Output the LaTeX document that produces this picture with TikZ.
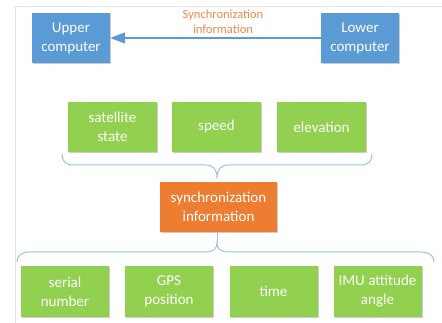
\documentclass[tikz,border=0pt]{standalone}
\usepackage{fontspec}
\setmainfont{Carlito}
\usetikzlibrary{arrows.meta,shadows}
\definecolor{boxblue}{HTML}{5B9BD5}
\definecolor{boxgreen}{HTML}{92D050}
\definecolor{boxorange}{HTML}{ED7D31}
\definecolor{bracecol}{HTML}{9DC3E6}
\definecolor{framecol}{HTML}{E3E3E3}
\definecolor{labelorange}{HTML}{F08A4B}
\tikzset{
  box/.style={text=white, align=center,
    font=\fontsize{15}{19}\selectfont, inner sep=0pt,
    drop shadow={shadow xshift=1pt, shadow yshift=-1pt, opacity=0.2, fill=black}},
  bluebox/.style={box, fill=boxblue, minimum width=78pt, minimum height=50pt},
  greenbox/.style={box, fill=boxgreen, minimum width=89pt, minimum height=50pt},
  orangebox/.style={box, fill=boxorange, minimum width=117pt, minimum height=50pt},
  bracestyle/.style={draw=bracecol, line width=1pt},
  flowarrow/.style={draw=boxblue, line width=1.4pt, -{Triangle[length=15pt,width=11pt]}},
}
\begin{document}
\begin{tikzpicture}[x=1pt,y=-1pt]
\useasboundingbox (0,0) rectangle (442,323);
\fill[white] (0,0) rectangle (442,323);
\draw[framecol, line width=0.8pt] (15,323) -- (15,6) -- (442,6);

\node[bluebox] (upper) at (71,38) {Upper\\computer};
\node[bluebox] (lower) at (360,38) {Lower\\computer};
\draw[flowarrow] (lower.west) -- (upper.east);
\node[text=labelorange, align=center, font=\fontsize{12.5}{15}\selectfont] (synclabel) at (223,22) {Synchronization\\information};

\node[greenbox] (sat) at (112.5,127) {satellite\\state};
\node[greenbox] (speed) at (216.5,127) {speed};
\node[greenbox] (elev) at (321.5,127) {elevation};

\node[orangebox] (sync) at (218.5,207) {synchronization\\information};

\node[greenbox, minimum width=88pt, minimum height=51pt] (serial) at (65,291.5) {serial\\number};
\node[greenbox, minimum width=88pt, minimum height=51pt] (gps) at (169,291.5) {GPS\\position};
\node[greenbox, minimum width=88pt, minimum height=51pt] (time) at (273.5,291.5) {time};
\node[greenbox, minimum width=88pt, minimum height=51pt] (imu) at (377.5,291.5) {IMU attitude\\angle};

% upper brace
\coordinate (tipA) at (217,178);
\draw[bracestyle] (62,154) .. controls (62,161) and (65,165) .. (74,165)
  -- (205,165) .. controls (213,165) and (217,169) .. (tipA)
  .. controls (217,169) and (221,165) .. (229,165)
  -- (360,165) .. controls (369,165) and (372,161) .. (372,154);

% lower brace
\coordinate (tipB) at (217,243);
\draw[bracestyle] (sync.south -| tipB) -- (tipB);
\draw[bracestyle] (17,262) .. controls (17,256) and (21,252) .. (30,252)
  -- (205,252) .. controls (213,252) and (217,249) .. (tipB)
  .. controls (217,249) and (221,252) .. (229,252)
  -- (421,252) .. controls (430,252) and (434,256) .. (434,262);
\end{tikzpicture}
\end{document}
